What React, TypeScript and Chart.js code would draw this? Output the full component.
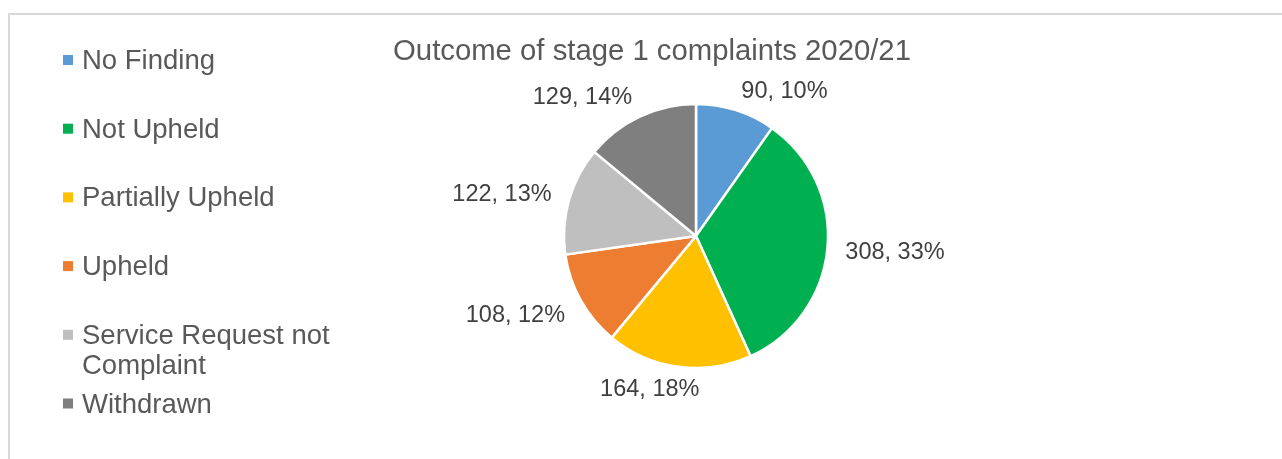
import { useEffect, useRef } from "react";
import { Chart, registerables } from "chart.js";

Chart.register(...registerables);

// ---- data ----
const categories = [
  "No Finding",
  "Not Upheld",
  "Partially Upheld",
  "Upheld",
  "Service Request not Complaint",
  "Withdrawn",
];
const counts = [90, 308, 164, 108, 122, 129];
const sliceColors = ["#5B9BD5", "#00B050", "#FFC000", "#ED7D31", "#BFBFBF", "#7F7F7F"];
const chartTitle = "Outcome of stage 1 complaints 2020/21";

const FONT = "'Liberation Sans', Arial, sans-serif";

const total = counts.reduce((a, b) => a + b, 0);
const pctLabels = counts.map((c) => `${c}, ${Math.round((c / total) * 100)}%`);

const clamp = (v: number) => Math.max(-1, Math.min(1, v));

const framePlugin = {
  id: "frame",
  beforeDraw(chart: any) {
    const ctx = chart.ctx as CanvasRenderingContext2D;
    ctx.save();
    ctx.fillStyle = "#ffffff";
    ctx.fillRect(0, 0, chart.width, chart.height);
    ctx.strokeStyle = "#D9D9D9";
    ctx.lineWidth = 2;
    ctx.beginPath();
    ctx.moveTo(9, chart.height);
    ctx.lineTo(9, 14);
    ctx.lineTo(chart.width, 14);
    ctx.stroke();
    ctx.restore();
  },
};

const titlePlugin = {
  id: "customTitle",
  afterDraw(chart: any) {
    const ctx = chart.ctx as CanvasRenderingContext2D;
    ctx.save();
    ctx.font = `29.3px ${FONT}`;
    ctx.fillStyle = "#595959";
    ctx.textAlign = "center";
    ctx.textBaseline = "middle";
    ctx.fillText(chartTitle, 652, 52);
    ctx.restore();
  },
};

const legendPlugin = {
  id: "customLegend",
  afterDraw(chart: any) {
    const ctx = chart.ctx as CanvasRenderingContext2D;
    ctx.save();
    ctx.font = `27.5px ${FONT}`;
    ctx.textBaseline = "middle";
    ctx.textAlign = "left";
    const x0 = 63;
    const maxW = 265;
    categories.forEach((name, i) => {
      const y = 60 + i * 68.7;
      ctx.fillStyle = sliceColors[i];
      ctx.fillRect(x0, y - 5, 10, 10);
      ctx.fillStyle = "#595959";
      // wrap
      const words = name.split(" ");
      const lines: string[] = [];
      let cur = "";
      words.forEach((w) => {
        const t = cur ? cur + " " + w : w;
        if (ctx.measureText(t).width > maxW && cur) {
          lines.push(cur);
          cur = w;
        } else cur = t;
      });
      if (cur) lines.push(cur);
      lines.forEach((ln, k) => ctx.fillText(ln, x0 + 19, y + 1.5 + k * 30));
    });
    ctx.restore();
  },
};

const labelPlugin = {
  id: "sliceLabels",
  afterDatasetsDraw(chart: any) {
    const ctx = chart.ctx as CanvasRenderingContext2D;
    const meta = chart.getDatasetMeta(0);
    ctx.save();
    ctx.font = `23.5px ${FONT}`;
    ctx.fillStyle = "#404040";
    ctx.textAlign = "center";
    ctx.textBaseline = "middle";
    meta.data.forEach((arc: any, i: number) => {
      const { x, y, startAngle, endAngle, outerRadius } = arc.getProps(
        ["x", "y", "startAngle", "endAngle", "outerRadius"],
        true
      );
      const mid = (startAngle + endAngle) / 2;
      const dx = Math.cos(mid);
      const dy = Math.sin(mid);
      const text = pctLabels[i];
      const w = ctx.measureText(text).width;
      const h = 24;
      const r = outerRadius + 9;
      const cx = x + dx * r + (w / 2) * clamp(4 * dx) + 9 * dx;
      const cy = y + dy * r + (h / 2) * clamp(1.5 * dy) + 1.5;
      ctx.fillText(text, cx, cy);
    });
    ctx.restore();
  },
};

export default function App() {
  const ref = useRef<HTMLCanvasElement | null>(null);
  useEffect(() => {
    if (!ref.current) return;
    const chart = new Chart(ref.current, {
      type: "pie",
      data: {
        labels: categories,
        datasets: [
          {
            data: counts,
            backgroundColor: sliceColors,
            borderColor: "#ffffff",
            borderWidth: 2.5,
          },
        ],
      },
      options: {
        animation: false,
        responsive: true,
        maintainAspectRatio: false,
        radius: 132,
        layout: { padding: { left: 500, right: 390, top: 110, bottom: 97 } },
        plugins: {
          legend: { display: false },
          title: { display: false },
          tooltip: { enabled: false },
        },
      } as any,
      plugins: [framePlugin, titlePlugin, legendPlugin, labelPlugin],
    });
    return () => chart.destroy();
  }, []);
  return (
    <div style={{ position: "fixed", left: 0, top: 0, width: 1282, height: 459, background: "#fff" }}>
      <canvas ref={ref} />
    </div>
  );
}
